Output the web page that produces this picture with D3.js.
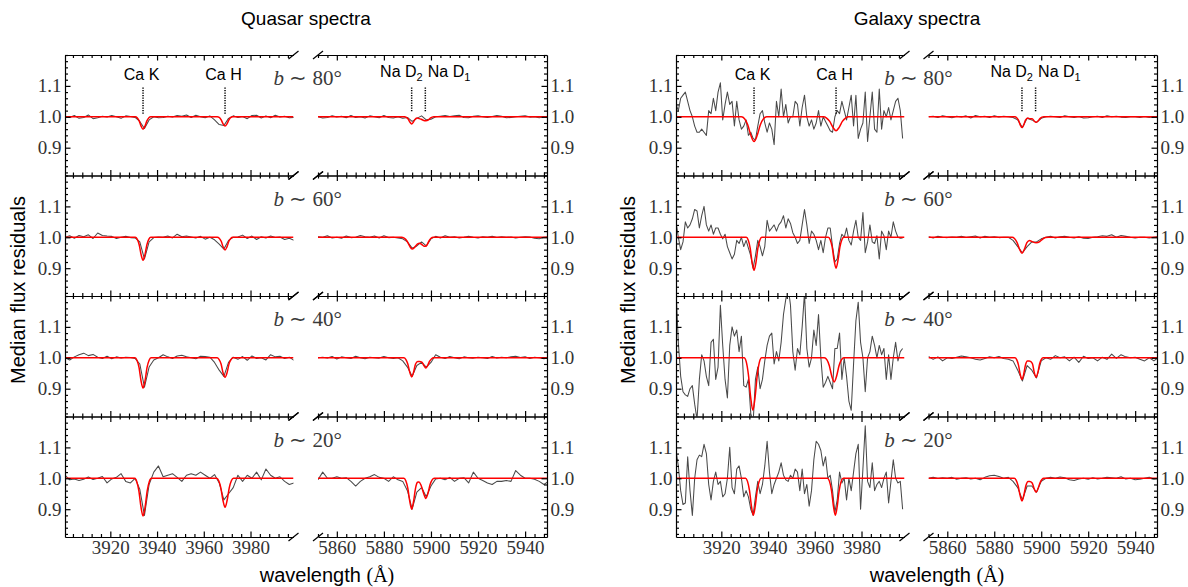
<!DOCTYPE html>
<html><head><meta charset="utf-8">
<script src="https://cdn.jsdelivr.net/npm/d3@7/dist/d3.min.js"></script>
<style>body{margin:0;background:#fff}svg{display:block}</style>
</head><body><svg id="c" width="1188" height="587"></svg>
<script>
// ---------------- DATA ----------------
const latitudes = ["80", "60", "40", "20"];
const caDomain = [3900.6, 3998.4];
const naDomain = [5852, 5949.3];
const yDomain = [0.81, 1.2];
const caTicks = [3920, 3940, 3960, 3980];
const naTicks = [5860, 5880, 5900, 5920, 5940];
const yTicks = [0.9, 1.0, 1.1];
const caLines = [{name: "Ca K", w: 3934.0}, {name: "Ca H", w: 3969.1}];
const naLines = [{name: "Na D", sub: "2", w: 5891.8}, {name: "Na D", sub: "1", w: 5897.6}];

// sampling of the spectra (start wavelength, step in Angstrom)
const qsoCaStart = 3900.6, qsoCaStep = 2;
const galCaStart = 3900.6, galCaStep = 1;
const naStart = 5852, naStep = 2;

// Quasar spectra - Ca region
const qsoCa80 = [1.0,0.998,1.004,0.995,0.998,1.006,0.994,0.997,1.002,0.999,1.004,1.0,0.995,1.003,1.001,0.998,0.985,0.962,0.99,1.0,0.997,0.998,1.002,0.999,1.004,1.002,1.006,0.998,1.005,1.0,0.997,1.003,0.99,0.975,0.972,0.995,1.003,0.998,1.001,0.994,1.004,1.005,0.996,1.003,0.997,1.005,0.999,1.002,0.997,0.998];
const qsoCa60 = [1.0,1.005,0.997,1.006,1.002,1.008,0.996,1.014,1.006,1.004,1.003,0.996,1.0,1.003,0.999,0.998,0.985,0.93,0.985,0.999,1.001,1.0,1.004,0.998,1.01,1.002,1.004,1.001,0.998,1.003,0.994,1.0,0.992,0.978,0.962,0.99,1.0,1.001,1.007,0.996,1.004,0.993,1.002,0.998,1.004,0.999,1.001,0.993,0.997,0.99];
const qsoCa40 = [1.0,0.993,1.003,1.01,1.015,1.007,1.011,1.002,0.998,1.005,0.997,1.003,0.999,1.002,1.001,0.998,0.98,0.905,0.97,0.993,1.0,1.01,1.003,0.998,1.006,1.008,1.003,1.0,0.997,1.005,1.004,1.002,0.985,0.96,0.94,0.985,1.002,0.995,1.004,0.992,1.006,0.998,1.0,0.993,1.01,1.003,1.005,0.998,1.002,0.992];
const qsoCa20 = [1.01,0.995,0.998,0.993,0.997,1.004,0.996,1.0,1.006,0.985,0.998,1.003,1.015,0.99,0.985,1.0,0.965,0.88,0.98,1.02,1.04,1.005,1.01,1.015,1.003,0.99,1.01,1.015,1.01,1.02,1.01,1.0,1.012,0.985,0.93,0.95,0.97,1.01,0.99,1.01,1.0,1.02,0.995,1.03,1.01,1.0,1.005,0.99,0.98,0.985];
// Quasar spectra - Na region
const qsoNa80 = [1.0,0.996,0.998,1.003,0.999,1.002,0.997,1.004,0.998,1.0,0.996,1.003,1.0,0.997,1.004,0.998,0.996,1.0,0.995,0.998,0.985,0.995,1.003,0.99,0.992,1.0,1.002,1.004,1.001,1.003,1.005,0.998,0.997,1.002,1.003,1.0,0.998,1.001,1.004,1.002,0.997,0.998,1.0,1.002,1.003,0.999,1.0,0.997,1.001,1.0];
const qsoNa60 = [1.002,1.0,1.005,0.998,1.0,0.997,1.004,0.999,1.0,1.006,1.002,1.0,1.004,0.998,1.005,0.999,1.0,0.998,0.995,0.985,0.965,0.972,0.985,0.972,0.995,1.003,0.998,1.005,1.0,1.002,0.998,1.0,1.003,1.0,0.998,1.002,1.0,1.003,0.999,1.002,1.0,1.001,0.998,1.0,1.002,1.001,0.997,0.995,1.0,1.001];
const qsoNa40 = [1.0,1.002,0.999,1.004,0.996,1.003,1.0,0.998,1.005,1.0,0.997,1.002,1.0,0.999,1.004,1.0,0.998,1.0,0.99,0.97,0.94,0.975,0.985,0.97,0.985,1.01,1.002,0.998,1.004,1.0,0.997,1.003,1.0,0.999,1.002,1.0,0.998,1.004,0.999,1.002,1.0,1.003,1.005,1.001,1.003,0.998,1.002,1.0,0.997,1.0];
const qsoNa20 = [0.995,1.02,1.0,1.0,1.005,1.0,1.002,0.99,0.975,0.99,1.0,1.005,1.012,1.003,1.0,0.99,1.005,0.995,0.99,0.96,0.9,0.955,0.97,0.94,0.975,0.998,1.0,0.995,1.003,0.99,1.0,1.002,0.985,1.02,1.0,0.993,0.985,0.98,0.99,0.99,0.993,0.99,1.025,1.01,1.0,1.0,0.997,0.99,0.98,0.99];

// Galaxy spectra - Ca region
const galCa80 = [1.04,1.02,1.06,1.07,1.08,1.05,1.02,1.0,0.97,0.95,0.95,0.96,0.95,0.94,1.02,1.01,1.06,1.02,1.08,1.11,0.99,1.04,1.08,1.04,1.05,0.97,1.05,0.99,0.96,0.97,0.99,0.94,0.95,0.93,0.925,0.97,1.01,1.02,0.98,0.95,0.98,0.96,0.91,1.05,1.0,1.09,1.0,1.04,0.98,1.0,1.0,1.05,1.04,0.97,1.03,1.07,1.0,0.97,0.99,0.96,0.98,1.02,0.97,1.0,0.985,0.97,0.955,0.95,1.0,1.02,1.01,1.05,1.02,0.99,1.03,1.07,0.97,1.07,0.93,0.96,0.98,1.08,0.92,1.0,1.08,0.96,0.95,1.09,0.96,1.02,1.0,1.03,0.99,1.02,1.05,1.06,1.02,0.93];
const galCa60 = [1.05,1.0,0.96,0.985,1.05,1.03,1.04,1.06,1.09,1.085,1.03,1.07,1.10,1.04,1.02,1.04,1.01,1.03,1.03,1.01,0.995,1.01,0.97,0.95,0.93,0.945,0.99,0.98,1.0,0.97,0.99,0.965,0.94,0.90,0.94,0.99,0.97,0.94,0.97,1.055,1.02,1.03,1.04,1.02,1.04,1.05,1.07,1.03,1.06,1.045,1.015,1.0,0.98,0.99,1.04,1.09,1.04,0.98,1.02,1.01,0.99,0.96,0.99,0.95,1.0,1.03,1.03,0.97,0.92,0.93,0.98,1.01,1.0,1.03,0.99,0.975,1.02,1.055,1.0,0.99,1.08,0.95,0.985,1.04,0.985,0.98,1.005,0.93,1.02,1.005,0.96,1.02,1.0,1.05,1.02,1.0,0.997,0.998];
const galCa40 = [1.22,1.05,0.94,0.89,0.88,0.875,0.90,0.91,0.85,0.80,0.93,1.01,0.99,0.94,0.91,1.05,1.06,0.93,0.97,1.17,1.04,0.93,0.87,1.04,1.10,1.07,1.09,1.02,1.07,0.91,0.905,0.93,0.82,0.79,0.93,0.97,0.90,0.93,0.99,1.04,1.07,1.08,0.98,1.02,0.99,1.05,1.14,1.19,1.23,1.17,1.02,0.96,1.03,1.01,1.10,1.21,1.03,0.97,1.0,1.09,1.04,1.14,1.0,0.905,0.92,0.94,0.92,0.90,1.03,1.03,1.08,0.93,1.0,0.94,0.86,0.83,0.98,1.12,1.18,1.05,1.0,0.89,1.0,1.02,1.07,1.04,1.0,1.04,1.01,1.03,0.93,1.01,0.93,1.0,1.05,0.99,1.02,1.03];
const galCa20 = [1.09,1.04,0.96,0.915,0.92,1.07,0.96,0.88,1.0,1.06,1.075,1.07,1.11,1.08,0.98,0.93,0.99,1.02,0.98,0.99,0.94,0.95,1.0,1.10,0.97,0.95,1.03,1.04,1.0,0.94,0.96,0.94,0.90,0.88,0.94,0.99,0.95,0.98,1.04,1.12,1.02,0.95,0.98,1.0,1.02,1.05,1.01,0.995,0.99,1.01,1.0,1.03,1.02,0.96,1.03,0.95,0.98,0.91,0.96,1.06,1.12,1.11,1.09,1.04,1.07,1.0,1.01,0.96,0.89,0.93,1.02,0.985,1.0,0.93,1.0,0.96,1.02,1.08,1.11,0.90,1.03,1.17,0.99,0.97,1.05,0.96,0.98,0.99,0.97,1.0,1.02,0.92,0.99,1.06,1.0,0.985,0.99,0.90];
// Galaxy spectra - Na region
const galNa80 = [1.0,1.002,0.998,1.003,1.0,0.997,1.002,0.999,1.003,0.996,1.004,1.0,1.002,0.998,1.003,0.999,1.002,1.0,0.998,0.99,0.965,0.995,0.99,0.982,0.995,1.0,1.002,1.0,0.998,1.003,1.0,0.998,1.001,0.996,0.997,1.0,1.002,0.998,1.003,1.0,1.002,0.999,0.998,1.0,1.0,0.998,1.001,0.998,1.0,1.001];
const galNa60 = [1.002,0.998,1.003,1.0,0.999,1.001,1.0,1.003,0.999,1.002,1.004,0.998,1.003,1.0,1.002,0.999,1.0,1.0,0.99,0.97,0.95,0.97,0.985,0.985,0.995,1.0,1.003,0.998,1.002,1.003,1.0,0.998,1.002,0.997,0.996,1.0,1.002,1.005,1.003,1.008,1.0,1.006,1.003,1.0,0.998,1.0,1.0,0.998,1.0,1.002];
const galNa40 = [1.004,0.995,1.003,0.99,1.0,0.998,1.002,1.006,1.003,1.0,0.995,0.993,0.998,1.003,1.0,1.004,0.998,0.995,0.99,0.96,0.925,0.975,0.96,0.935,0.99,1.0,0.995,1.007,1.0,1.003,0.99,1.002,0.985,1.005,0.998,1.0,0.99,1.002,0.995,1.012,0.998,1.01,1.003,1.0,1.002,0.995,0.99,1.0,0.99,1.002];
const galNa20 = [1.0,1.003,0.999,1.002,1.0,1.003,0.997,1.0,1.002,0.998,1.0,0.995,1.003,1.008,1.01,1.006,1.0,1.003,0.99,0.97,0.93,0.975,0.975,0.955,0.99,1.0,1.003,1.0,1.004,1.002,0.995,0.993,0.998,1.0,0.997,1.002,0.998,1.0,1.003,1.002,1.0,1.005,0.998,1.0,0.995,0.997,1.0,1.003,0.998,1.0];

// Absorption-line models (red curves) as [wavelength, flux] points
const qsoCaModel80 = [[3900.6,1],[3930.7,1],[3931.5,.997],[3932.35,.987],[3933.17,.970],[3934,.960],[3934.83,.970],[3935.65,.987],[3936.5,.997],[3937.3,1],[3965.8,1],[3966.6,.998],[3967.45,.990],[3968.27,.977],[3969.1,.970],[3969.93,.977],[3970.75,.990],[3971.6,.998],[3972.4,1],[3998.4,1]];
const qsoCaModel60 = [[3900.6,1],[3930.7,1],[3931.5,.994],[3932.35,.976],[3933.17,.944],[3934,.926],[3934.83,.944],[3935.65,.976],[3936.5,.994],[3937.3,1],[3965.8,1],[3966.6,.997],[3967.45,.987],[3968.27,.969],[3969.1,.959],[3969.93,.969],[3970.75,.987],[3971.6,.997],[3972.4,1],[3998.4,1]];
const qsoCaModel40 = [[3900.6,1],[3930.6,1],[3931.4,.992],[3932.3,.968],[3933.13,.926],[3934,.902],[3934.87,.926],[3935.7,.968],[3936.6,.992],[3937.4,1],[3965.7,1],[3966.5,.995],[3967.4,.980],[3968.23,.952],[3969.1,.937],[3969.97,.952],[3970.8,.980],[3971.7,.995],[3972.5,1],[3998.4,1]];
const qsoCaModel20 = [[3900.6,1],[3930.4,1],[3931.3,.990],[3932.2,.960],[3933.1,.908],[3934,.878],[3934.9,.908],[3935.8,.960],[3936.7,.990],[3937.6,1],[3965.5,1],[3966.4,.992],[3967.3,.969],[3968.2,.929],[3969.1,.906],[3970,.929],[3970.9,.969],[3971.8,.992],[3972.7,1],[3998.4,1]];
const qsoNaModel80 = [[5852,1],[5888.8,1],[5889.55,.998],[5890.3,.993],[5891.05,.983],[5891.8,.977],[5892.55,.983],[5893.3,.992],[5894.2,.996],[5895,.994],[5895.9,.992],[5896.7,.989],[5897.8,.987],[5898.9,.990],[5899.7,.996],[5900.5,.999],[5901.2,1],[5949.3,1]];
const qsoNaModel60 = [[5852,1],[5887.5,1],[5888.6,.997],[5889.8,.988],[5890.9,.972],[5892,.962],[5893.1,.968],[5894.2,.978],[5895.2,.981],[5896.2,.976],[5896.9,.972],[5897.6,.971],[5898.3,.975],[5899.1,.988],[5900,.997],[5901,1],[5949.3,1]];
const qsoNaModel40 = [[5852,1],[5888.5,1],[5889.3,.995],[5890.15,.980],[5891,.953],[5891.8,.938],[5892.6,.953],[5893.45,.980],[5894.4,.988],[5895.1,.988],[5896.15,.986],[5897,.975],[5897.8,.967],[5898.6,.975],[5899.45,.989],[5900.3,.997],[5901.1,1],[5949.3,1]];
const qsoNaModel20 = [[5852,1],[5888.5,1],[5889.3,.992],[5890.15,.968],[5891,.925],[5891.8,.900],[5892.6,.925],[5893.45,.968],[5894.3,.987],[5894.9,.988],[5895.7,.979],[5896.9,.951],[5897.8,.935],[5898.7,.951],[5899.6,.979],[5900.5,.995],[5901.4,1],[5949.3,1]];
const galCaModel80 = [[3900.6,1],[3928.6,1],[3929.95,.994],[3931.3,.974],[3932.65,.940],[3934,.920],[3935.35,.940],[3936.7,.974],[3938.05,.994],[3939.4,1],[3963.7,1],[3965.05,.996],[3966.4,.985],[3967.75,.966],[3969.1,.955],[3970.45,.966],[3971.8,.985],[3973.15,.996],[3974.5,1],[3998.4,1]];
const galCaModel60 = [[3900.6,1],[3930.7,1],[3931.5,.991],[3932.35,.965],[3933.17,.919],[3934,.893],[3934.83,.919],[3935.65,.965],[3936.5,.991],[3937.3,1],[3965.8,1],[3966.6,.992],[3967.45,.968],[3968.27,.925],[3969.1,.900],[3969.93,.925],[3970.75,.968],[3971.6,.992],[3972.4,1],[3998.4,1]];
const galCaModel40 = [[3900.6,1],[3929.75,1],[3930.7,.986],[3931.6,.945],[3932.56,.872],[3933.5,.830],[3934.44,.872],[3935.4,.945],[3936.3,.986],[3937.25,1],[3964.1,1],[3965.15,.994],[3966.2,.975],[3967.25,.941],[3968.3,.922],[3969.35,.941],[3970.4,.975],[3971.45,.994],[3972.5,1],[3998.4,1]];
const galCaModel20 = [[3900.6,1],[3930.4,1],[3931.2,.990],[3932.05,.961],[3932.9,.909],[3933.7,.880],[3934.5,.909],[3935.35,.961],[3936.2,.990],[3937,1],[3965.5,1],[3966.3,.990],[3967.15,.961],[3968,.909],[3968.8,.880],[3969.6,.909],[3970.45,.961],[3971.3,.990],[3972.1,1],[3998.4,1]];
const galNaModel80 = [[5852,1],[5888.8,1],[5889.55,.997],[5890.3,.989],[5891.05,.974],[5891.8,.965],[5892.55,.974],[5893.3,.989],[5894.3,.996],[5895.1,.994],[5896.15,.994],[5897,.986],[5897.8,.982],[5898.6,.986],[5899.45,.994],[5900.3,.999],[5901.1,1],[5949.3,1]];
const galNaModel60 = [[5852,1],[5887.6,1],[5888.6,.996],[5889.7,.983],[5890.8,.961],[5891.8,.948],[5892.8,.961],[5893.9,.983],[5895,.990],[5896.1,.986],[5897.8,.982],[5899.4,.986],[5900.6,.994],[5901.8,.999],[5903,1],[5949.3,1]];
const galNaModel40 = [[5852,1],[5888.8,1],[5889.55,.994],[5890.3,.977],[5891.05,.947],[5891.8,.930],[5892.55,.947],[5893.3,.977],[5894.1,.990],[5894.8,.990],[5895.5,.988],[5896.3,.980],[5897.05,.952],[5897.8,.937],[5898.55,.952],[5899.3,.980],[5900.05,.995],[5900.8,1],[5949.3,1]];
const galNaModel20 = [[5852,1],[5888.5,1],[5889.3,.994],[5890.15,.976],[5891,.945],[5891.8,.927],[5892.6,.945],[5893.45,.976],[5894.4,.990],[5895.1,.990],[5896.15,.985],[5897,.966],[5897.8,.955],[5898.6,.966],[5899.45,.985],[5900.3,.996],[5901.1,1],[5949.3,1]];

// ---------------- LAYOUT ----------------
const svg = d3.select("#c");
const rowTop = 55, rowH = 120.5;
const serif = "'Liberation Serif','Times New Roman',serif";
const sans = "'Liberation Sans',Arial,Helvetica,sans-serif";
const tickCol = "#333";

const figures = [
  {title: "Quasar spectra", titleX: 306, xlabX: 327, ylabX: 25,
   ca: [65, 293.5], na: [318, 547],
   caData: [qsoCa80, qsoCa60, qsoCa40, qsoCa20], caStart: qsoCaStart, caStep: qsoCaStep,
   naData: [qsoNa80, qsoNa60, qsoNa40, qsoNa20],
   caModel: [qsoCaModel80, qsoCaModel60, qsoCaModel40, qsoCaModel20],
   naModel: [qsoNaModel80, qsoNaModel60, qsoNaModel40, qsoNaModel20]},
  {title: "Galaxy spectra", titleX: 917, xlabX: 937, ylabX: 635,
   ca: [676, 904.5], na: [928.5, 1157],
   caData: [galCa80, galCa60, galCa40, galCa20], caStart: galCaStart, caStep: galCaStep,
   naData: [galNa80, galNa60, galNa40, galNa20],
   caModel: [galCaModel80, galCaModel60, galCaModel40, galCaModel20],
   naModel: [galNaModel80, galNaModel60, galNaModel40, galNaModel20]}
];

const minorX = (dom) => d3.range(Math.ceil(dom[0] / 4) * 4, dom[1], 4).filter(v => v % 20 !== 0);
const minorY = d3.range(0.82, 1.2001, 0.02).map(v => +v.toFixed(2)).filter(v => ![0.9, 1.0, 1.1].includes(v));
const defs = svg.append("defs");
let clipId = 0;

function styleAxis(g, showLabels) {
  g.select(".domain").attr("stroke", "#000").attr("stroke-width", 1.2);
  g.selectAll(".tick line").attr("stroke", "#000").attr("stroke-width", 1.2);
  g.selectAll(".tick text").attr("font-family", serif).attr("font-size", 19).attr("fill", tickCol);
  if (!showLabels) g.selectAll(".tick text").remove();
}

function subplot(g, xr, y0, y1, domain, data, start, step, model, side, bottom, ticks) {
  const xs = d3.scaleLinear().domain(domain).range(xr);
  const ys = d3.scaleLinear().domain(yDomain).range([y1, y0]);
  const id = "clip" + (clipId++);
  defs.append("clipPath").attr("id", id).append("rect")
    .attr("x", xr[0]).attr("y", y0).attr("width", xr[1] - xr[0]).attr("height", y1 - y0);
  const pg = g.append("g").attr("clip-path", `url(#${id})`);
  pg.append("path").datum(data)
    .attr("d", d3.line().x((d, i) => xs(start + i * step)).y(d => ys(d)))
    .attr("fill", "none").attr("stroke", "#4a4a4a").attr("stroke-width", 1.05).attr("stroke-linejoin", "round");
  pg.append("path").datum(model)
    .attr("d", d3.line().x(d => xs(d[0])).y(d => ys(d[1])).curve(d3.curveMonotoneX))
    .attr("fill", "none").attr("stroke", "#ff0000").attr("stroke-width", 1.5);

  // top spine
  const top = g.append("g").attr("transform", `translate(0,${y0})`)
    .call(d3.axisTop(xs).tickValues(ticks).tickSize(-5.5).tickSizeOuter(0).tickFormat(""));
  styleAxis(top, false);
  const topMin = g.append("g").attr("transform", `translate(0,${y0})`)
    .call(d3.axisTop(xs).tickValues(minorX(domain)).tickSize(-3).tickSizeOuter(0).tickFormat(""));
  topMin.select(".domain").remove(); styleAxis(topMin, false);
  // bottom spine
  const bot = g.append("g").attr("transform", `translate(0,${y1})`)
    .call(d3.axisBottom(xs).tickValues(ticks).tickSize(-5.5).tickSizeOuter(0).tickPadding(3).tickFormat(d3.format("d")));
  styleAxis(bot, bottom);
  const botMin = g.append("g").attr("transform", `translate(0,${y1})`)
    .call(d3.axisBottom(xs).tickValues(minorX(domain)).tickSize(-3).tickSizeOuter(0).tickFormat(""));
  botMin.select(".domain").remove(); styleAxis(botMin, false);
  // y axis
  const xPos = side === "left" ? xr[0] : xr[1];
  const mk = side === "left" ? d3.axisLeft : d3.axisRight;
  const ya = g.append("g").attr("transform", `translate(${xPos},0)`)
    .call(mk(ys).tickValues(yTicks).tickSize(-5.5).tickSizeOuter(0).tickPadding(3.5).tickFormat(d3.format(".1f")));
  styleAxis(ya, true);
  const yaMin = g.append("g").attr("transform", `translate(${xPos},0)`)
    .call(mk(ys).tickValues(minorY).tickSize(-3).tickSizeOuter(0).tickFormat(""));
  yaMin.select(".domain").remove(); styleAxis(yaMin, false);
  // break marks
  const bx = side === "left" ? xr[1] : xr[0];
  [y0, y1].forEach(y => {
    g.append("line").attr("x1", bx - 5).attr("y1", y + 4).attr("x2", bx + 5).attr("y2", y - 4)
      .attr("stroke", "#000").attr("stroke-width", 1.2);
  });
  return {xs, ys};
}

figures.forEach(f => {
  const g = svg.append("g");
  g.append("text").attr("x", f.titleX).attr("y", 25).attr("text-anchor", "middle")
    .attr("font-family", sans).attr("font-size", 19).attr("fill", "#000").text(f.title);
  g.append("text").attr("transform", `translate(${f.ylabX},${290}) rotate(-90)`).attr("text-anchor", "middle")
    .attr("font-family", sans).attr("font-size", 20).attr("fill", "#000").text("Median flux residuals");
  const xl = g.append("text").attr("x", f.xlabX).attr("y", 582).attr("text-anchor", "middle")
    .attr("font-size", 20).attr("fill", "#000");
  xl.append("tspan").attr("font-family", sans).text("wavelength ");
  xl.append("tspan").attr("font-family", serif).text("(Å)");

  latitudes.forEach((lat, r) => {
    const y0 = rowTop + r * rowH, y1 = y0 + rowH;
    const bottom = r === latitudes.length - 1;
    const ca = subplot(g, f.ca, y0, y1, caDomain, f.caData[r], f.caStart, f.caStep, f.caModel[r], "left", bottom, caTicks);
    const na = subplot(g, f.na, y0, y1, naDomain, f.naData[r], naStart, naStep, f.naModel[r], "right", bottom, naTicks);
    // latitude label
    const lx = (f.ca[1] + f.na[0]) / 2 + 2;
    const t = g.append("text").attr("x", lx).attr("y", y0 + 30).attr("text-anchor", "middle")
      .attr("font-family", serif).attr("font-size", 21).attr("fill", "#3a3a3a");
    t.append("tspan").attr("font-style", "italic").text("b");
    t.append("tspan").text(" ∼ " + lat + "°");

    if (r === 0) {
      caLines.forEach(l => {
        const x = ca.xs(l.w);
        g.append("line").attr("x1", x).attr("x2", x).attr("y1", ca.ys(1.095)).attr("y2", ca.ys(1.008))
          .attr("stroke", "#000").attr("stroke-width", 1.5).attr("stroke-dasharray", "1.2,1.3");
        g.append("text").attr("x", x - 1.5).attr("y", y0 + 25).attr("text-anchor", "middle")
          .attr("font-family", sans).attr("font-size", 16).attr("fill", "#000").text(l.name);
      });
      naLines.forEach((l, k) => {
        const x = na.xs(l.w);
        g.append("line").attr("x1", x).attr("x2", x).attr("y1", na.ys(1.095)).attr("y2", na.ys(1.015))
          .attr("stroke", "#000").attr("stroke-width", 1.5).attr("stroke-dasharray", "1.2,1.3");
        const tt = g.append("text").attr("x", k === 0 ? x + 11 : x + 2.5).attr("y", y0 + 22)
          .attr("text-anchor", k === 0 ? "end" : "start")
          .attr("font-family", sans).attr("font-size", 16).attr("fill", "#000");
        tt.append("tspan").text(l.name);
        tt.append("tspan").attr("font-size", 11).attr("dy", 4).text(l.sub);
      });
    }
  });
});
</script>
</body></html>
